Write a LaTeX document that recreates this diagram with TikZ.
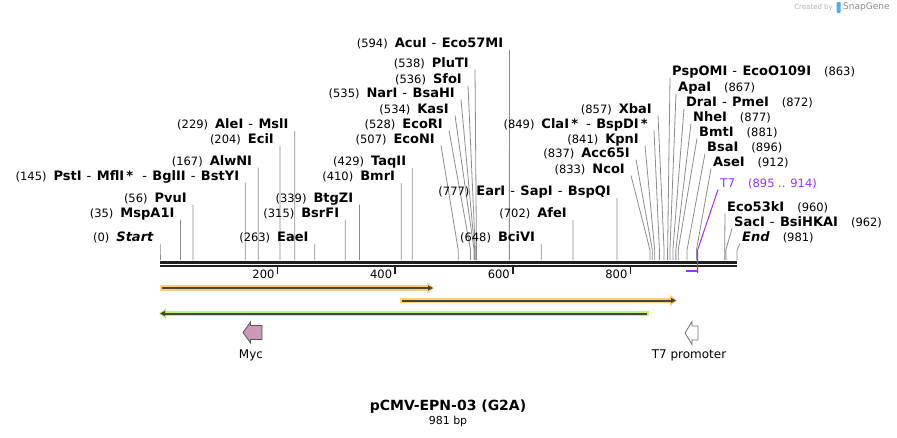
\documentclass[tikz,border=0pt]{standalone}
\usepackage{fontspec}
\setmainfont{DejaVu Sans}
\usetikzlibrary{arrows.meta}
\definecolor{cutgray}{RGB}{140,140,140}
\definecolor{featpurple}{RGB}{155,48,255}
\definecolor{orhalo}{RGB}{255,204,120}
\definecolor{grhalo}{RGB}{192,240,140}
\definecolor{featline}{RGB}{75,68,50}
\definecolor{mycpink}{RGB}{201,153,181}
\definecolor{sgblue}{RGB}{80,170,240}
\newcommand{\nb}[1]{{\mdseries\fontsize{11.5}{13}\selectfont(#1)}\hspace{7pt}}
\newcommand{\nr}[1]{\hspace{13pt}{\mdseries\fontsize{11.5}{13}\selectfont(#1)}}
\newcommand{\sepr}{\hspace{5pt}{\mdseries-}\hspace{5.5pt}}

\begin{document}
\begin{tikzpicture}[x=1pt,y=-1pt,
    site/.style={inner xsep=6pt,inner ysep=2pt,text height=9.5pt,text depth=0pt,
      font=\fontsize{13}{15}\selectfont\bfseries},
    siteR/.style={site,inner xsep=2pt,anchor=south west},
    cut/.style={draw=cutgray,line width=0.8pt},
    halo/.style={line width=5.5pt,line cap=butt},
    featarrow/.style={draw=featline,line width=2pt,-{Triangle[length=5pt,width=5pt]}}]
      \useasboundingbox (0,0) rectangle (897,437);

      % sequence
      \draw[line width=3pt,black!88] (160,262.5) -- (737,262.5);
      \draw[line width=2.3pt,black!88] (160,266.3) -- (737,266.3);
      \foreach \t in {200,400,600,800}{
        \draw[line width=1.6pt,black!88] ({160+\t*0.5882},267) -- ++(0,7);
        \node[anchor=east,inner sep=1pt,font=\fontsize{11.5}{13}\selectfont] (t\t) at ({158+\t*0.5882},274) {\t};
      }

      % sites left of their line
      \foreach \bp/\tx/\ty/\txt in {
          0/160/243.5/{\nb{0}\textit{Start}},
          35/180.6/219.5/{\nb{35}MspA1I},
          56/192.9/204.5/{\nb{56}PvuI},
          145/245.3/182.5/{\nb{145}PstI\sepr MflI\,*\hspace{4pt}\sepr BglII\sepr BstYI},
          167/258.2/167.5/{\nb{167}AlwNI},
          204/280/145.5/{\nb{204}EciI},
          229/294.7/131/{\nb{229}AleI\sepr MslI},
          263/314.7/243.5/{\nb{263}EaeI},
          315/345.3/219.5/{\nb{315}BsrFI},
          339/359.4/204.5/{\nb{339}BtgZI},
          410/401.2/183/{\nb{410}BmrI},
          429/412.3/168/{\nb{429}TaqII},
          507/441/145.5/{\nb{507}EcoNI},
          528/449/130.5/{\nb{528}EcoRI},
          534/455/115.5/{\nb{534}KasI},
          535/461/99.5/{\nb{535}NarI\sepr BsaHI},
          536/468/85.5/{\nb{536}SfoI},
          538/475/69.5/{\nb{538}PluTI},
          594/509.4/49.5/{\nb{594}AcuI\sepr Eco57MI},
          648/541.2/243.5/{\nb{648}BciVI},
          702/572.9/220/{\nb{702}AfeI},
          777/617/198/{\nb{777}EarI\sepr SapI\sepr BspQI},
          833/631/175.5/{\nb{833}NcoI},
          837/636/159.5/{\nb{837}Acc65I},
          841/645/145.5/{\nb{841}KpnI},
          849/654/130.5/{\nb{849}ClaI\,*\hspace{3pt}\sepr BspDI\,*},
          857/658/115.5/{\nb{857}XbaI}}{
        \coordinate (b\bp) at ({160+\bp*0.5882},250);
        \node[site,anchor=south east] (l\bp) at (\tx,\ty) {\txt};
        \draw[cut] (l\bp.south east) -- (b\bp) -- ++(0,10);
      }

      % sites right of their line
      \foreach \bp/\tx/\ty/\txt in {
          863/670/77.5/{PspOMI\sepr EcoO109I\nr{863}},
          867/676/93.5/{ApaI\nr{867}},
          872/684/108.5/{DraI\sepr PmeI\nr{872}},
          877/691/123.5/{NheI\nr{877}},
          881/697/138.5/{BmtI\nr{881}},
          896/705/153.5/{BsaI\nr{896}},
          912/711/168.5/{AseI\nr{912}},
          960/725/213.5/{Eco53kI\nr{960}},
          962/732/228.5/{SacI\sepr BsiHKAI\nr{962}},
          981/740/243.5/{\textit{End}\nr{981}}}{
        \coordinate (b\bp) at ({160+\bp*0.5882},250);
        \node[siteR] (l\bp) at (\tx,\ty) {\txt};
        \draw[cut] (l\bp.south west) -- (b\bp) -- ++(0,10);
      }

      % T7 feature
      \coordinate (t7end) at (697.6,250);
      \node[siteR,text=featpurple,font=\fontsize{12}{14}\selectfont] (t7) at (718,189.5)
        {T7\hspace{13pt}{\fontsize{11.5}{13}\selectfont(895 .. 914)}};
      \draw[featpurple,line width=1pt] (t7.south west) -- (t7end) -- ++(0,23);
      \draw[featpurple,line width=2pt] (686.4,270.5) -- (697.6,270.5);

      % features
      \draw[halo,orhalo,-{Triangle[length=7pt,width=11pt]}] (160,288) -- (434,288);
      \draw[featarrow] (162,288) -- (433,288);
      \draw[halo,orhalo,-{Triangle[length=7pt,width=11pt]}] (400,300.5) -- (677,300.5);
      \draw[featarrow] (402,300.5) -- (676,300.5);
      \draw[halo,grhalo,-{Triangle[length=7pt,width=11pt]}] (649,313.5) -- (159,313.5);
      \draw[featarrow] (647,313.5) -- (160,313.5);

      \draw[fill=mycpink,draw=black!65,line width=0.8pt]
        (243,332.5) -- (250.5,322) -- (250.5,325.5) -- (262,325.5) -- (262,339.5)
        -- (250.5,339.5) -- (250.5,343) -- cycle;
      \node[font=\fontsize{12}{14}\selectfont] (myc) at (251,355) {Myc};
      \draw[fill=white,draw=black!55,line width=0.8pt]
        (685,333) -- (692,321.5) -- (692,326) -- (698,326) -- (698,340)
        -- (692,340) -- (692,344.5) -- cycle;
      \node[font=\fontsize{12}{14}\selectfont] (t7p) at (689,355) {T7 promoter};

      % title
      \node[font=\fontsize{14}{16}\selectfont\bfseries] (title) at (448,407) {pCMV-EPN-03 (G2A)};
      \node[font=\fontsize{11}{13}\selectfont] (size) at (448,421.5) {981 bp};

      % credit
      \node[anchor=east,inner sep=0pt,text=black!30,font=\fontsize{7}{8}\selectfont] (made) at (833,7.5) {Created by};
      \fill[sgblue,rounded corners=1pt] (836.5,2) rectangle (840.5,13);
      \node[anchor=west,inner sep=0pt,text=black!45,font=\fontsize{9}{10}\selectfont] (sg) at (843,7.5) {SnapGene};
    \end{tikzpicture}
\end{document}
